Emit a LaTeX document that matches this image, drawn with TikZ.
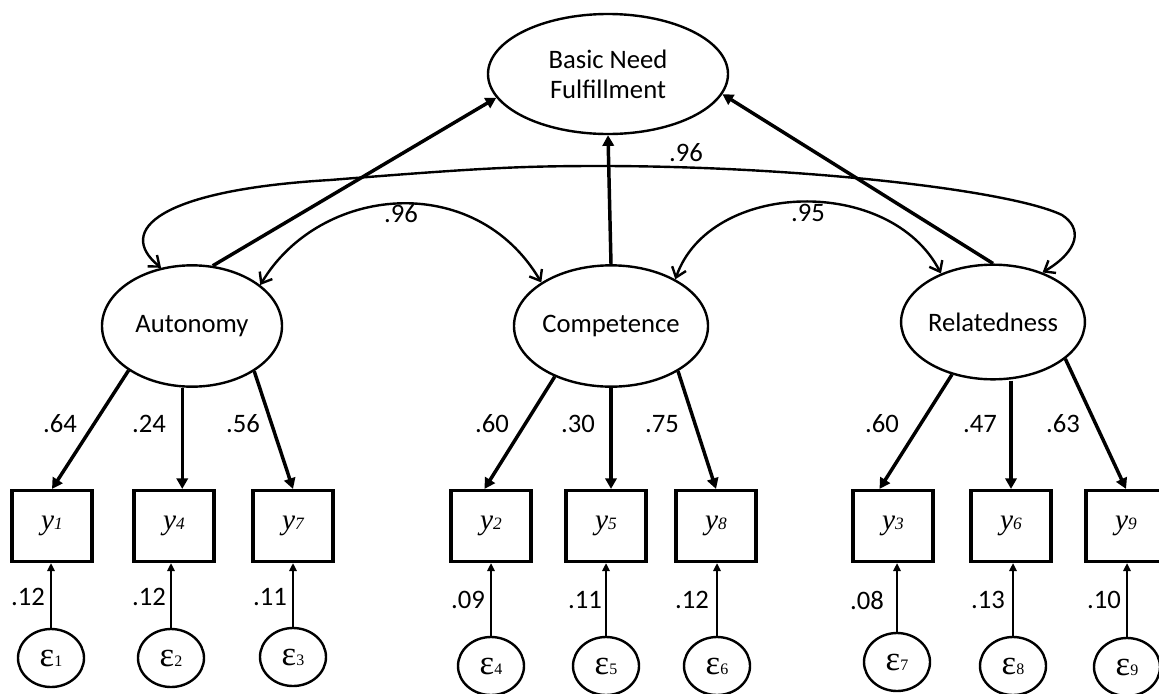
\documentclass[tikz,border=0pt]{standalone}
\usepackage{fontspec}
\setmainfont{Carlito}
\newfontfamily\tnr{Liberation Serif}
\usetikzlibrary{arrows.meta,shapes.geometric}
\newcommand{\yvar}[1]{{\tnr\fontsize{22}{22}\selectfont\itshape y{\fontsize{13}{13}\selectfont#1}}}
\newcommand{\evar}[1]{{\tnr\fontsize{26}{26}\selectfont ε{\fontsize{12}{12}\selectfont#1}}}

\begin{document}
\begin{tikzpicture}[
    x=0.75pt, y=-0.75pt,
    every node/.style={font=\fontsize{20}{22.5}\selectfont},
    latent/.style={draw, ellipse, line width=1.8pt, minimum width=135pt, minimum height=91pt, inner sep=0pt, align=center},
    obs/.style={draw, rectangle, line width=2.6pt, minimum width=60pt, minimum height=53pt, inner sep=0pt},
    errc/.style={draw, ellipse, line width=1.8pt, minimum width=49.5pt, minimum height=43.5pt, inner sep=0pt},
    coef/.style={inner sep=1pt},
    load/.style={-{Triangle[length=8pt,width=8.5pt]}, line width=2.6pt},
    resid/.style={-{Triangle[length=6pt,width=5.5pt]}, line width=1.8pt},
    cov/.style={{Straight Barb[length=7pt,width=11pt]}-{Straight Barb[length=7pt,width=11pt]}, line width=1.8pt}
]
\useasboundingbox (0,0) rectangle (1159,693);

% latent variables
\node[latent, minimum width=180pt, minimum height=90pt] (bnf) at (608,74) {Basic Need\\Fulfillment};
\node[latent] (aut) at (192,326) {Autonomy};
\node[latent] (comp) at (611,326) {Competence};
\node[latent, minimum height=86pt] (rel) at (993,322) {Relatedness};

% indicators
\node[obs] (y1) at (52,526) {\yvar{1}};
\node[obs] (y4) at (174,526) {\yvar{4}};
\node[obs] (y7) at (293,526) {\yvar{7}};
\node[obs] (y2) at (491,526) {\yvar{2}};
\node[obs] (y5) at (606,526) {\yvar{5}};
\node[obs] (y8) at (716,526) {\yvar{8}};
\node[obs] (y3) at (893,526) {\yvar{3}};
\node[obs] (y6) at (1011,526) {\yvar{6}};
\node[obs] (y9) at (1126,526) {\yvar{9}};

% errors
\node[errc] (e1) at (51,658) {\evar{1}};
\node[errc] (e2) at (171,658) {\evar{2}};
\node[errc] (e3) at (293,657) {\evar{3}};
\node[errc] (e4) at (491,666) {\evar{4}};
\node[errc] (e5) at (606,666) {\evar{5}};
\node[errc] (e6) at (717,666) {\evar{6}};
\node[errc] (e7) at (897,662) {\evar{7}};
\node[errc] (e8) at (1013,666) {\evar{8}};
\node[errc] (e9) at (1127,667) {\evar{9}};

% structural paths
\draw[load] (aut.71) -- (bnf.192);
\draw[load] (comp.north) -- (bnf.south);
\draw[load] (rel.north) -- (bnf.350);

% loadings
\draw[load] (aut.215) -- (y1.north);
\draw[load] (aut.261) -- (aut.261 |- y4.north);
\draw[load] (aut.324) -- (y7.north);
\draw[load] (comp.222) -- (y2.100);
\draw[load] (comp.south) -- (comp.south |- y5.north);
\draw[load] (comp.326) -- (y8.north);
\draw[load] (rel.232) -- (y3.110);
\draw[load] (rel.south -| y6.north) -- (y6.north);
\draw[load] (rel.333) -- (y9.north);

% residuals
\foreach \i/\j in {1/1,2/4,3/7,4/2,5/5,6/8,7/3,8/6,9/9}
  \draw[resid] (e\i.north) -- (e\i.north |- y\j.south);

% covariances
\draw[cov] (aut.31) .. controls (320,185) and (475,170) .. (comp.148);
\draw[cov] (comp.36) .. controls (710,180) and (890,175) .. (rel.137);
\draw[cov] (aut.118) .. controls (115,230) and (160,190) .. (330,180)
  .. controls (480,168) and (520,166) .. (600,166)
  .. controls (800,166) and (1010,190) .. (1062,215)
  .. controls (1082,228) and (1080,250) .. (rel.45);

% coefficients
\node[coef] (c1) at (401,214) {.96};
\node[coef] (c2) at (808,213) {.95};
\node[coef] (c3) at (686,153) {.96};
\node[coef] (l1) at (60,424) {.64};
\node[coef] (l4) at (149,424) {.24};
\node[coef] (l7) at (243,424) {.56};
\node[coef] (l2) at (492,424) {.60};
\node[coef] (l5) at (578,424) {.30};
\node[coef] (l8) at (662,424) {.75};
\node[coef] (l3) at (882,424) {.60};
\node[coef] (l6) at (980,424) {.47};
\node[coef] (l9) at (1063,424) {.63};
\node[coef] (r1) at (28,597) {.12};
\node[coef] (r2) at (149,597) {.12};
\node[coef] (r3) at (270,597) {.11};
\node[coef] (r4) at (468,600) {.09};
\node[coef] (r5) at (585,600) {.11};
\node[coef] (r6) at (692,600) {.12};
\node[coef] (r7) at (867,600) {.08};
\node[coef] (r8) at (988,600) {.13};
\node[coef] (r9) at (1104,600) {.10};
\end{tikzpicture}
\end{document}
